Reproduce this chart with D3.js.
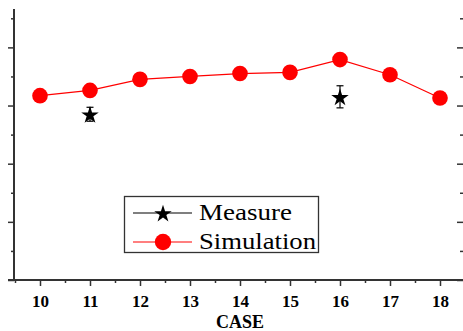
<!DOCTYPE html>
<html><head><meta charset="utf-8">
<script src="https://cdn.jsdelivr.net/npm/d3@7"></script>
<style>html,body{margin:0;padding:0;background:#fff;}svg{display:block;}</style>
</head><body>
<svg id="chart" width="463" height="331"></svg>
<script>
const cases = [10, 11, 12, 13, 14, 15, 16, 17, 18];
const simulation = [3.17, 3.26, 3.45, 3.50, 3.55, 3.57, 3.79, 3.53, 3.13];
const measureCases = [11, 16];
const measureValues = [2.85, 3.15];
const measureErrors = [0.12, 0.19];
const xTickLabels = ["10","11","12","13","14","15","16","17","18"];
const legendLabels = ["Measure", "Simulation"];
const xTitle = "CASE";

const svg = d3.select("#chart");
const x = d3.scaleLinear().domain([9.48, 18.5]).range([14, 465]);
const y = d3.scaleLinear().domain([0, 4.66]).range([280, 9]);
const axisColor = "#333";

// left axis
const majorY = d3.range(0, 4.01, 1);
const minorY = d3.range(0.5, 4.6, 1);
const gL = svg.append("g").attr("transform", "translate(14,0)");
gL.call(d3.axisLeft(y).tickValues(majorY).tickSize(6).tickFormat(""));
gL.append("g").call(d3.axisLeft(y).tickValues(minorY).tickSize(3).tickFormat(""));
gL.selectAll("path.domain").attr("stroke", axisColor).attr("stroke-width", 2).attr("d", "M0,9V280");
gL.selectAll(".tick line").attr("stroke", axisColor).attr("stroke-width", 1.5);
gL.selectAll("g g path.domain").remove();

// right axis (ticks inward)
const gR = svg.append("g").attr("transform", "translate(463,0)");
gR.call(d3.axisLeft(y).tickValues(majorY).tickSize(6).tickFormat(""));
gR.append("g").call(d3.axisLeft(y).tickValues(minorY).tickSize(3).tickFormat(""));
gR.selectAll("path.domain").remove();
gR.selectAll(".tick line").attr("stroke", axisColor).attr("stroke-width", 1.5);

// bottom axis
const gB = svg.append("g").attr("transform", "translate(0,280)");
gB.call(d3.axisBottom(x).tickValues(cases).tickSize(6).tickFormat((d,i)=>xTickLabels[i]).tickPadding(9));
const minorX = d3.range(9.5, 18.6, 1);
gB.append("g").call(d3.axisBottom(x).tickValues(minorX).tickSize(3).tickFormat(""));
gB.selectAll("path.domain").attr("stroke", axisColor).attr("stroke-width", 2).attr("d", "M8,0H463");
gB.selectAll("g g path.domain").remove();
gB.selectAll(".tick line").attr("stroke", axisColor).attr("stroke-width", 1.5);
gB.selectAll(".tick text").attr("font-family", "Liberation Serif, Times New Roman, serif")
  .attr("font-weight", "bold").attr("font-size", 17).attr("fill", "#000");

svg.append("text").attr("x", 240).attr("y", 328).attr("text-anchor", "middle")
  .attr("font-family", "Liberation Serif, Times New Roman, serif").attr("font-weight", "bold")
  .attr("font-size", 18).attr("fill", "#000").text(xTitle);

// simulation line
const line = d3.line().x((d,i)=>x(cases[i])).y(d=>y(d));
svg.append("path").datum(simulation).attr("d", line).attr("fill", "none")
  .attr("stroke", "#ff0000").attr("stroke-width", 1.2);
svg.selectAll("circle.sim").data(simulation).join("circle").attr("class","sim")
  .attr("cx", (d,i)=>x(cases[i])).attr("cy", d=>y(d)).attr("r", 7.8).attr("fill", "#ff0000");

// measure with error bars
const star = d3.symbol(d3.symbolStar);
measureValues.forEach((v,i)=>{
  const cx = x(measureCases[i]);
  const e = measureErrors[i];
  const g = svg.append("g").attr("stroke", "#000").attr("stroke-width", 1.2);
  g.append("line").attr("x1", cx).attr("x2", cx).attr("y1", y(v+e)).attr("y2", y(v-e));
  g.append("line").attr("x1", cx-3.5).attr("x2", cx+3.5).attr("y1", y(v+e)).attr("y2", y(v+e));
  g.append("line").attr("x1", cx-3.5).attr("x2", cx+3.5).attr("y1", y(v-e)).attr("y2", y(v-e));
  svg.append("path").attr("d", star.size(95)()).attr("transform", `translate(${cx},${y(v)+1})`).attr("fill", "#000");
});

// legend
const lg = svg.append("g");
lg.append("rect").attr("x", 124.5).attr("y", 196.5).attr("width", 194).attr("height", 56)
  .attr("fill", "#fff").attr("stroke", "#333").attr("stroke-width", 1.3);
lg.append("line").attr("x1", 133).attr("x2", 192).attr("y1", 213).attr("y2", 213).attr("stroke", "#000").attr("stroke-width", 1.2);
lg.append("path").attr("d", star.size(95)()).attr("transform", "translate(163,214)").attr("fill", "#000");
lg.append("line").attr("x1", 133).attr("x2", 192).attr("y1", 242).attr("y2", 242).attr("stroke", "#ff0000").attr("stroke-width", 1.2);
lg.append("circle").attr("cx", 163).attr("cy", 242).attr("r", 8.2).attr("fill", "#ff0000");
const lgWidths = [93, 117];
legendLabels.forEach((t,i)=>{
  lg.append("text").attr("x", 199).attr("y", 220 + i*29)
    .attr("font-family", "Liberation Serif, Times New Roman, serif").attr("font-size", 23)
    .attr("textLength", lgWidths[i]).attr("lengthAdjust", "spacingAndGlyphs")
    .attr("fill", "#000").text(t);
});
</script>
</body></html>
